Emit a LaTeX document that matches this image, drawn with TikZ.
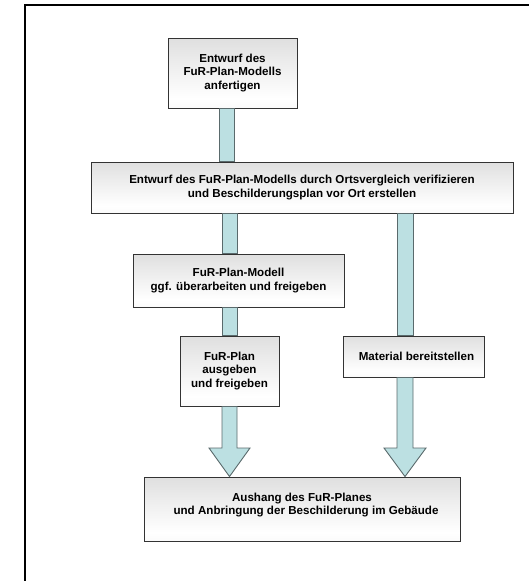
\documentclass[tikz,border=0pt]{standalone}
\usepackage{fontspec}
\setmainfont{Liberation Sans}
\pgfdeclareverticalshading{boxshade}{100bp}{color(0bp)=(black!28); color(20bp)=(black!3); color(32bp)=(white); color(60bp)=(black!8); color(100bp)=(black!20)}
\definecolor{connfill}{HTML}{BCE0E2}
\definecolor{connline}{HTML}{5A6A6C}
\tikzset{
  procbox/.style={draw=black!80, line width=0.9pt, shading=boxshade, rectangle, align=center,
    font=\fontsize{11.6}{13.2}\selectfont\bfseries, inner sep=0pt},
  conn/.style={draw=connline, line width=0.9pt, fill=connfill}
}
\begin{document}
\begin{tikzpicture}[x=1pt,y=-1pt]
\useasboundingbox (0,0) rectangle (529,581);
\begin{scope}
\clip (0,0) rectangle (529,581);
\draw[line width=2pt] (25,600) -- (25,5) -- (540,5);
\end{scope}
\node[procbox, minimum width=129pt, minimum height=70pt] (b1) at (232.5,73) {Entwurf des\\FuR-Plan-Modells\\anfertigen};
\node[procbox, minimum width=422pt, minimum height=51pt] (b2) at (302,187.5) {Entwurf des FuR-Plan-Modells durch Ortsvergleich verifizieren\\und Beschilderungsplan vor Ort erstellen};
\node[procbox, minimum width=211pt, minimum height=53pt] (b3) at (238.5,280.5) {FuR-Plan-Modell\\ggf. überarbeiten und freigeben};
\node[procbox, minimum width=99pt, minimum height=70pt] (b4) at (229.5,371) {FuR-Plan\\ausgeben\\und freigeben};
\node[procbox, minimum width=141pt, minimum height=41pt] (b5) at (413.5,356.5) {\hspace*{6pt}Material bereitstellen};
\node[procbox, minimum width=316pt, minimum height=64pt, text depth=10pt] (b6) at (302,509) {Aushang des FuR-Planes\\\hspace*{8pt}und Anbringung der Beschilderung im Gebäude};
% connectors
\draw[conn] (219,0 |- b1.south) rectangle (234,0 |- b2.north);
\draw[conn] (222,0 |- b2.south) rectangle (237,0 |- b3.north);
\draw[conn] (222,0 |- b3.south) rectangle (237,0 |- b4.north);
\draw[conn] (397,0 |- b2.south) rectangle (413,0 |- b5.north);
\draw[conn, line join=miter] (222,0 |- b4.south) -- (222,448) -- (209,448) -- (229.5,0 |- b6.north) -- (250,448) -- (237,448) -- (237,0 |- b4.south) -- cycle;
\draw[conn, line join=miter] (397,0 |- b5.south) -- (397,448) -- (384,448) -- (405,0 |- b6.north) -- (426,448) -- (413,448) -- (413,0 |- b5.south) -- cycle;
\end{tikzpicture}
\end{document}
